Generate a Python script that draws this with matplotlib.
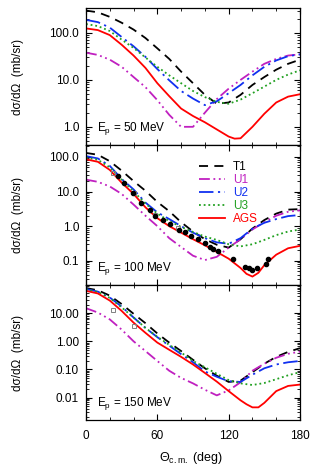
import numpy as np
import matplotlib
matplotlib.use("Agg")
import matplotlib.pyplot as plt
from matplotlib.ticker import FixedLocator, NullFormatter, LogLocator, MultipleLocator

plt.rcParams['font.family'] = ['Liberation Sans', 'DejaVu Sans']
plt.rcParams['mathtext.fontset'] = 'custom'
plt.rcParams['mathtext.rm'] = 'Liberation Sans'
plt.rcParams['mathtext.it'] = 'Liberation Sans:italic'

# ---------------- data ----------------
theta = [0, 10, 20, 30, 40, 50, 60, 70, 80, 90, 100, 110, 120, 130, 140, 150, 160, 170, 180]

# 50 MeV
t1_50 = [300, 275, 220, 165, 118, 78, 47, 28, 15, 8.5, 4.8, 3.1, 3.3, 4.8, 7.8, 11.5, 16.5, 22, 27]
u1_50 = [38, 34, 27, 19, 11.5, 7, 3.7, 1.8, 1.0, 1.0, 2.0, 3.9, 6.5, 10, 15, 22, 28, 33, 35]
u2_50 = [190, 170, 130, 82, 52, 31, 17, 9.8, 5.8, 4.0, 2.9, 3.5, 5.2, 7.8, 12.5, 19, 26, 32, 35]
u3_50 = [155, 140, 110, 72, 48, 30, 19, 12.5, 8.5, 5.8, 4.3, 3.4, 3.1, 3.8, 5.2, 7.2, 10, 13, 16]
theta_ags50 = [0, 10, 20, 30, 40, 50, 60, 70, 80, 90, 100, 110, 120, 125, 130, 140, 150, 160, 170, 180]
ags_50 = [125, 115, 90, 56, 33, 18, 8.5, 4.5, 2.45, 1.7, 1.25, 0.88, 0.62, 0.56, 0.57, 1.0, 1.9, 3.3, 4.4, 4.95]

# 100 MeV
t1_100 = [130, 115, 75, 40, 20, 10.5, 5, 2.7, 1.3, 0.7, 0.42, 0.29, 0.24, 0.42, 0.85, 1.5, 2.3, 3.0, 3.1]
u1_100 = [22, 19, 14, 8.5, 4.2, 2.0, 1.0, 0.45, 0.25, 0.14, 0.105, 0.13, 0.24, 0.42, 0.8, 1.3, 2.0, 2.6, 2.85]
u2_100 = [105, 90, 55, 23, 11.5, 4.8, 2.5, 1.6, 1.0, 0.65, 0.45, 0.34, 0.31, 0.45, 0.85, 1.25, 1.6, 1.95, 2.1]
u3_100 = [95, 82, 50, 22, 10, 4.5, 2.3, 1.4, 0.95, 0.68, 0.5, 0.4, 0.3, 0.26, 0.3, 0.4, 0.55, 0.7, 0.8]
theta_ags100 = [0, 10, 20, 30, 40, 50, 60, 70, 80, 90, 100, 110, 120, 130, 135, 140, 145, 150, 160, 170, 180]
ags_100 = [85, 72, 42, 18, 8.5, 3.5, 1.7, 1.0, 0.65, 0.42, 0.28, 0.18, 0.115, 0.062, 0.042, 0.035, 0.045, 0.075, 0.15, 0.23, 0.27]
exp_th_100 = [27, 32, 39.5, 46.5, 53.5, 58, 65, 70.5, 78.5, 83, 88, 94.5, 100, 104, 107, 111, 123.5, 133.5, 137, 140, 143.5, 151, 153.5]
exp_100 = [28, 17.5, 9, 4.8, 3.0, 2.0, 1.5, 1.15, 0.8, 0.7, 0.52, 0.42, 0.32, 0.25, 0.22, 0.19, 0.114, 0.067, 0.06, 0.053, 0.062, 0.08, 0.115]
sq_th_100 = [23, 40, 58, 77.5]
sq_100 = [35, 9, 2.1, 0.88]

# 150 MeV
t1_150 = [78, 65, 42, 21, 9.5, 4.4, 1.9, 0.9, 0.45, 0.22, 0.11, 0.06, 0.036, 0.04, 0.08, 0.16, 0.28, 0.42, 0.57]
u1_150 = [15, 10.5, 6, 2.6, 1.0, 0.45, 0.2, 0.09, 0.05, 0.032, 0.019, 0.012, 0.018, 0.035, 0.09, 0.16, 0.26, 0.36, 0.43]
u2_150 = [72, 58, 36, 17, 7, 3, 1.4, 0.7, 0.35, 0.18, 0.085, 0.055, 0.038, 0.036, 0.065, 0.11, 0.15, 0.18, 0.2]
u3_150 = [70, 56, 35, 16, 7, 3, 1.45, 0.75, 0.4, 0.2, 0.12, 0.07, 0.042, 0.032, 0.028, 0.033, 0.045, 0.062, 0.08]
theta_ags150 = [0, 10, 20, 30, 40, 50, 60, 70, 80, 90, 100, 110, 120, 130, 135, 140, 145, 150, 160, 170, 180]
ags_150 = [62, 50, 28, 12, 4.6, 2.0, 0.9, 0.5, 0.28, 0.15, 0.075, 0.037, 0.017, 0.008, 0.0058, 0.0045, 0.0045, 0.0065, 0.017, 0.026, 0.029]
sq_th_150 = [23, 40]
sq_150 = [12.8, 3.6]

energies = ["50", "100", "150"]
model_names = ["T1", "U1", "U2", "U3", "AGS"]
colors = ["black", "#c020c0", "#1030f0", "#20a020", "#ff0000"]
styles = [(0, (5, 3.5)), (0, (6, 2, 1, 2, 1, 2)), (0, (8, 2.5, 1.2, 2.5)), (0, (1, 1.6)), '-']

panels = [
    dict(curves=[(theta, t1_50), (theta, u1_50), (theta, u2_50), (theta, u3_50), (theta_ags50, ags_50)],
         ylim=(0.41, 340), ticks=[1, 10, 100], labels=["1.0", "10.0", "100.0"]),
    dict(curves=[(theta, t1_100), (theta, u1_100), (theta, u2_100), (theta, u3_100), (theta_ags100, ags_100)],
         ylim=(0.02, 220), ticks=[0.1, 1, 10, 100], labels=["0.1", "1.0", "10.0", "100.0"]),
    dict(curves=[(theta, t1_150), (theta, u1_150), (theta, u2_150), (theta, u3_150), (theta_ags150, ags_150)],
         ylim=(0.0016, 100), ticks=[0.01, 0.1, 1, 10], labels=["0.01", "0.10", "1.00", "10.00"]),
]

W, H = 314, 470
fig = plt.figure(figsize=(W / 100, H / 100), dpi=100)
left, right = 86 / W, 300 / W
bounds = [(8, 145), (145, 285), (285, 420)]
axes = []
for i, (top, bot) in enumerate(bounds):
    ax = fig.add_axes([left, 1 - bot / H, right - left, (bot - top) / H])
    p = panels[i]
    for (x, y), c, ls, nm in zip(p['curves'], colors, styles, model_names):
        ax.plot(x, y, color=c, linestyle=ls, lw=1.3, label=nm)
    ax.set_yscale('log')
    ax.set_xlim(0, 180)
    ax.set_ylim(*p['ylim'])
    ax.yaxis.set_major_locator(FixedLocator(p['ticks']))
    ax.set_yticklabels(p['labels'])
    ax.yaxis.set_minor_locator(LogLocator(base=10, subs=np.arange(2, 10), numticks=20))
    ax.yaxis.set_minor_formatter(NullFormatter())
    ax.xaxis.set_major_locator(FixedLocator([0, 60, 120, 180]))
    ax.xaxis.set_minor_locator(MultipleLocator(20))
    ax.tick_params(which='both', direction='in', top=True, right=True, labelsize=8.5, pad=5)
    ax.tick_params(which='major', length=4, width=0.8)
    ax.tick_params(which='minor', length=2, width=0.6)
    ax.tick_params(axis='x', pad=7)
    if i < 2:
        ax.set_xticklabels([])
    ax.set_ylabel('dσ/dΩ  (mb/sr)', fontsize=8.5)
    ax.yaxis.set_label_coords(-0.29, 0.5)
    ax.text(0.05, 0.06, r'E$_{\rm p}$ = %s MeV' % energies[i], transform=ax.transAxes,
            fontsize=8.5, ha='left', va='bottom')
    for s in ax.spines.values():
        s.set_linewidth(0.9)
    axes.append(ax)

ax2 = axes[1]
ax2.plot(sq_th_100, sq_100, linestyle='none', marker='s', ms=3.2, mfc='none', mec='#808080', mew=0.7, zorder=4)
ax2.plot(exp_th_100, exp_100, linestyle='none', marker='o', ms=3.0, color='black', zorder=5)
axes[2].plot(sq_th_150, sq_150, linestyle='none', marker='s', ms=3.2, mfc='none', mec='#808080', mew=0.7, zorder=4)

handles = ax2.get_lines()[:5]
leg = ax2.legend(handles, model_names, loc='upper left', bbox_to_anchor=(0.5, 0.93), frameon=False,
                 fontsize=8.5, handlelength=2.2, labelspacing=0.1, borderpad=0, handletextpad=0.7,
                 labelcolor=colors)

axes[2].set_xlabel(r'$\Theta_{\rm c.m.}$ (deg)', fontsize=9)
axes[2].xaxis.set_label_coords(0.49, -0.22)

fig.savefig('out.png', dpi=100)
